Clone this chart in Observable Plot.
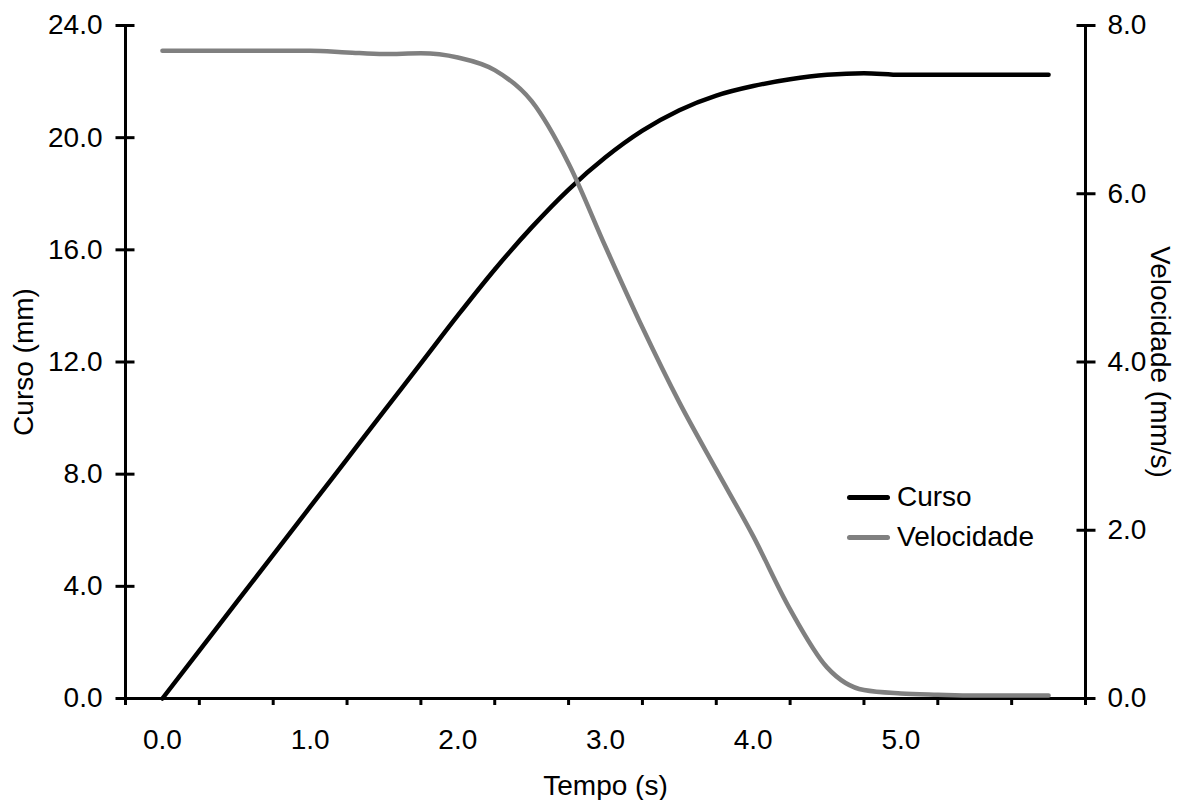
<!DOCTYPE html>
<html>
<head>
<meta charset="utf-8">
<script src="https://cdn.jsdelivr.net/npm/d3@7"></script>
<script src="https://cdn.jsdelivr.net/npm/@observablehq/plot@0.6"></script>
<style>
  body { margin: 0; background: #fff; }
  #wrap { position: relative; width: 1184px; height: 800px; font-family: 'Liberation Sans', Arial, sans-serif; }
  #legend { position: absolute; left: 847px; top: 477px; font-size: 28px; color: #000; }
  #legend .row { display: flex; align-items: center; height: 40px; }
  #legend .sw { width: 43px; height: 5px; border-radius: 3px; margin-right: 7px; }
</style>
</head>
<body>
<div id="wrap"></div>
<script>
// Tempo (s)
const tempo = [0, 0.25, 0.5, 0.75, 1.0, 1.25, 1.5, 1.75, 2.0, 2.25, 2.5, 2.75, 3.0,
               3.25, 3.5, 3.75, 4.0, 4.25, 4.5, 4.75, 5.0, 5.25, 5.5, 5.75, 6.0];
// Curso (mm)
const curso = [0, 1.71, 3.42, 5.12, 6.83, 8.54, 10.25, 11.95, 13.66, 15.3, 16.8, 18.15, 19.3,
               20.25, 20.98, 21.5, 21.84, 22.08, 22.24, 22.3, 22.24, 22.24, 22.24, 22.24, 22.24];
// Velocidade (mm/s)
const velocidade = [7.70, 7.70, 7.70, 7.70, 7.70, 7.68, 7.66, 7.67, 7.62, 7.47, 7.10, 6.36, 5.37,
                    4.41, 3.52, 2.72, 1.93, 1.06, 0.37, 0.10, 0.06, 0.045, 0.035, 0.035, 0.035];

const seriesNames = ["Curso", "Velocidade"];
const seriesColors = ["#000000", "#808080"];

const xTickMarks = [-0.25, 0.25, 0.75, 1.25, 1.75, 2.25, 2.75, 3.25, 3.75, 4.25, 4.75, 5.25, 5.75, 6.25];
const xTickLabels = [0, 1, 2, 3, 4, 5];
const cursoTicks = [0, 4, 8, 12, 16, 20, 24];
const velTicks = [0, 2, 4, 6, 8];

const xTitle = "Tempo (s)";
const yLeftTitle = "Curso (mm)";
const yRightTitle = "Velocidade (mm/s)";

const data = tempo.map((t, i) => ({t, curso: curso[i], vel: velocidade[i]}));
const k = cursoTicks[cursoTicks.length - 1] / velTicks[velTicks.length - 1];
const xDomain = [xTickMarks[0], xTickMarks[xTickMarks.length - 1]];
const fmt = d => d.toFixed(1);

const chart = Plot.plot({
  width: 1184,
  height: 800,
  marginLeft: 125,
  marginRight: 99,
  marginTop: 25,
  marginBottom: 102,
  style: {fontFamily: "'Liberation Sans', Arial, sans-serif", fontSize: "28px", color: "#000", background: "#fff", overflow: "visible"},
  x: {domain: xDomain, label: null},
  y: {domain: [cursoTicks[0], cursoTicks[cursoTicks.length - 1]], label: null},
  marks: [
    // axis lines
    Plot.ruleX(xDomain, {stroke: "#000", strokeWidth: 3}),
    Plot.ruleY([0], {stroke: "#000", strokeWidth: 3}),
    // bottom ticks and labels
    Plot.axisX({ticks: xTickMarks, tickSize: 7, tickFormat: () => "", strokeWidth: 3, label: null}),
    Plot.axisX({ticks: xTickLabels, tickSize: 0, tickPadding: 31, tickFormat: fmt, label: null}),
    // left ticks (crossing) and labels
    Plot.axisY({anchor: "left", ticks: cursoTicks, tickSize: 19, dx: 9.5, tickFormat: () => "", strokeWidth: 3, label: null}),
    Plot.axisY({anchor: "left", ticks: cursoTicks, tickSize: 0, tickPadding: 23, tickFormat: fmt, label: null}),
    // right ticks (crossing) and labels, in velocity units
    Plot.axisY({anchor: "right", ticks: velTicks.map(v => v * k), tickSize: 19, dx: -9.5, tickFormat: () => "", strokeWidth: 3, label: null}),
    Plot.axisY({anchor: "right", ticks: velTicks.map(v => v * k), tickSize: 0, tickPadding: 22, tickFormat: d => fmt(d / k), label: null}),
    // titles
    Plot.text([xTitle], {frameAnchor: "bottom", dy: 77, lineAnchor: "top", textAnchor: "middle"}),
    Plot.text([yLeftTitle], {frameAnchor: "left", dx: -101, rotate: -90, textAnchor: "middle"}),
    Plot.text([yRightTitle], {frameAnchor: "right", dx: 74, rotate: 90, textAnchor: "middle"}),
    // series
    Plot.line(data, {x: "t", y: "curso", stroke: seriesColors[0], strokeWidth: 4.5, curve: "monotone-x", strokeLinecap: "round"}),
    Plot.line(data, {x: "t", y: d => d.vel * k, stroke: seriesColors[1], strokeWidth: 4.5, curve: "monotone-x", strokeLinecap: "round"})
  ]
});

const wrap = document.getElementById("wrap");
wrap.appendChild(chart);

const legend = document.createElement("div");
legend.id = "legend";
seriesNames.forEach((name, i) => {
  const row = document.createElement("div");
  row.className = "row";
  const sw = document.createElement("span");
  sw.className = "sw";
  sw.style.background = seriesColors[i];
  const lab = document.createElement("span");
  lab.textContent = name;
  row.appendChild(sw);
  row.appendChild(lab);
  legend.appendChild(row);
});
wrap.appendChild(legend);
</script>
</body>
</html>
